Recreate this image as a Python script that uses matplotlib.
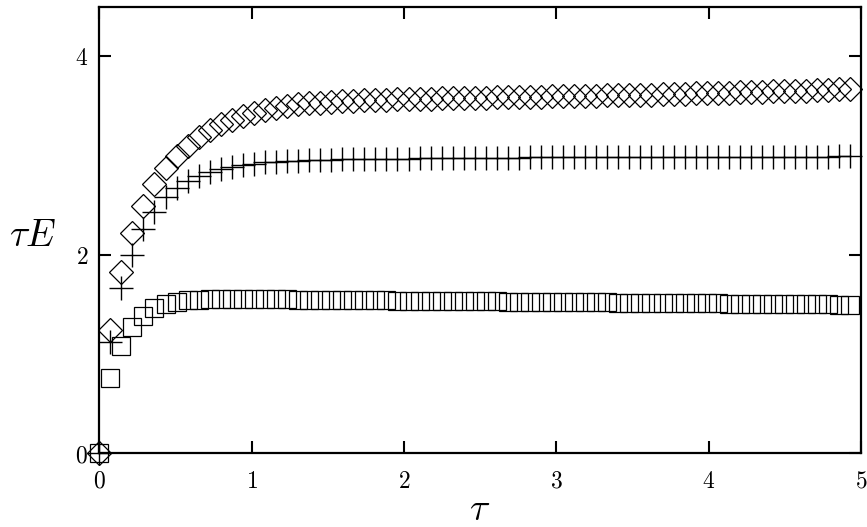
import matplotlib
matplotlib.use('Agg')
import matplotlib.pyplot as plt

plt.rcParams['mathtext.fontset'] = 'cm'
plt.rcParams['font.family'] = 'serif'

# temps (tau) des points
tau = [0.0, 0.0725, 0.145, 0.2175, 0.29, 0.3625, 0.435, 0.5075, 0.58, 0.6525,
       0.725, 0.7975, 0.87, 0.9425, 1.015, 1.0875, 1.16, 1.2325, 1.305, 1.3775,
       1.45, 1.5225, 1.595, 1.6675, 1.74, 1.8125, 1.885, 1.9575, 2.03, 2.1025,
       2.175, 2.2475, 2.32, 2.3925, 2.465, 2.5375, 2.61, 2.6825, 2.755, 2.8275,
       2.9, 2.9725, 3.045, 3.1175, 3.19, 3.2625, 3.335, 3.4075, 3.48, 3.5525,
       3.625, 3.6975, 3.77, 3.8425, 3.915, 3.9875, 4.06, 4.1325, 4.205, 4.2775,
       4.35, 4.4225, 4.495, 4.5675, 4.64, 4.7125, 4.785, 4.8575, 4.93]

# serie carres
e_carres = [0.0, 0.76, 1.08, 1.27, 1.38, 1.46, 1.50, 1.525, 1.54,
            1.545, 1.548, 1.55, 1.55, 1.55, 1.55, 1.55, 1.549,
            1.548, 1.547, 1.546, 1.545, 1.544, 1.543, 1.542, 1.541, 1.540,
            1.538, 1.537, 1.536, 1.535, 1.534, 1.533, 1.532,
            1.531, 1.530, 1.529, 1.528, 1.527, 1.526, 1.525, 1.524, 1.523,
            1.522, 1.521, 1.520, 1.519, 1.518, 1.517, 1.516, 1.515, 1.514, 1.513, 1.512,
            1.511, 1.510, 1.509, 1.508, 1.507, 1.506, 1.505, 1.504, 1.503,
            1.502, 1.501, 1.500, 1.499, 1.498, 1.497, 1.496]

# serie croix
e_croix = [0.0, 1.12, 1.66, 2.00, 2.26, 2.43, 2.58, 2.67, 2.74,
           2.79, 2.83, 2.86, 2.885, 2.90, 2.915, 2.93, 2.937,
           2.943, 2.948, 2.952, 2.955, 2.958, 2.960, 2.962, 2.964, 2.966,
           2.967, 2.968, 2.969, 2.970, 2.971, 2.972, 2.973,
           2.974, 2.975, 2.976, 2.977, 2.978, 2.979, 2.980, 2.981, 2.982,
           2.982, 2.983, 2.983, 2.984, 2.984, 2.985, 2.985, 2.985, 2.986, 2.986, 2.986,
           2.987, 2.987, 2.987, 2.987, 2.988, 2.988, 2.988, 2.988, 2.988,
           2.989, 2.989, 2.989, 2.989, 2.989, 2.990, 2.990]

# serie losanges
e_losanges = [0.0, 1.24, 1.82, 2.215, 2.495, 2.71, 2.87, 2.99, 3.095,
              3.185, 3.26, 3.315, 3.36, 3.40, 3.43, 3.46, 3.482,
              3.50, 3.515, 3.525, 3.533, 3.54, 3.547, 3.552, 3.557, 3.561,
              3.564, 3.567, 3.569, 3.571, 3.573, 3.575, 3.577,
              3.579, 3.581, 3.583, 3.585, 3.587, 3.589, 3.591, 3.593, 3.595,
              3.597, 3.599, 3.601, 3.603, 3.605, 3.607, 3.609, 3.611, 3.613, 3.616, 3.619,
              3.622, 3.625, 3.628, 3.631, 3.634, 3.637, 3.640, 3.643, 3.646,
              3.649, 3.652, 3.655, 3.659, 3.663, 3.667, 3.672]

xticks = [0, 1, 2, 3, 4, 5]
yticks = [0, 2, 4]
xticklabels = ['$0$', '$1$', '$2$', '$3$', '$4$', '$5$']
yticklabels = ['$0$', '$2$', '$4$']

fig = plt.figure(figsize=(8.67, 5.27), dpi=100)
ax = fig.add_axes([0.1145, 0.1404, 0.8785, 0.8469])

style = dict(linestyle='none', color='k', mfc='none', mec='k', clip_on=False)
ax.plot(tau, e_carres, marker='s', ms=13.5, mew=0.9, **style)
ax.plot(tau, e_croix, marker='+', ms=17, mew=1.0, **style)
ax.plot(tau, e_losanges, marker='D', ms=12.3, mew=0.9, **style)

ax.set_xlim(0, 5)
ax.set_ylim(0, 4.5)
ax.set_xticks(xticks)
ax.set_xticklabels(xticklabels)
ax.set_yticks(yticks)
ax.set_yticklabels(yticklabels)
ax.tick_params(direction='in', length=8.5, width=1.5, labelsize=17,
               top=True, right=True)
ax.tick_params(axis='x', pad=12)
ax.tick_params(axis='y', pad=8)
for s in ax.spines.values():
    s.set_linewidth(1.6)

ax.set_xlabel(r'$\tau$', fontsize=27, va='center')
ax.xaxis.set_label_coords(0.5, -0.128)
ax.set_ylabel(r'$\tau E$', fontsize=27, rotation=0, ha='center', va='center')
ax.yaxis.set_label_coords(-0.087, 0.486)

plt.savefig('out.png', dpi=100)
